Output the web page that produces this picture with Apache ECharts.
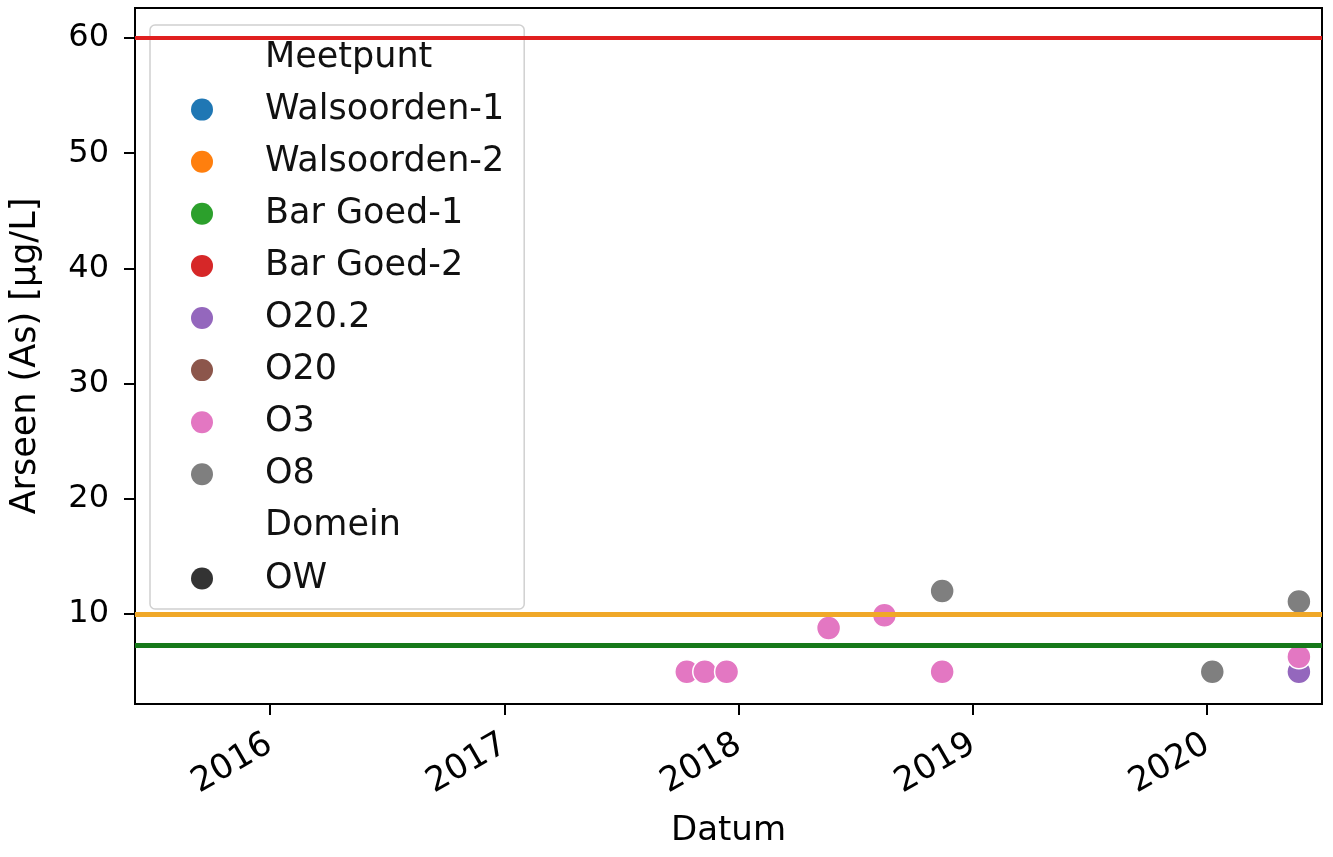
<!DOCTYPE html>
<html>
<head>
<meta charset="utf-8">
<script src="https://cdn.jsdelivr.net/npm/echarts@6/dist/echarts.min.js"></script>
<style>html,body{margin:0;padding:0;background:#fff}#c{width:1333px;height:857px}</style>
</head>
<body>
<div id="c"></div>
<script>
// ---- data ----
const legendNames = ['Meetpunt','Walsoorden-1','Walsoorden-2','Bar Goed-1','Bar Goed-2','O20.2','O20','O3','O8','Domein','OW'];
const legendColors = ['transparent','#1f77b4','#ff7f0e','#2ca02c','#d62728','#9467bd','#8c564b','#e377c2','#7f7f7f','transparent','#333333'];

const o202Dates = ['2020-05-23'];
const o202Values = [5];
const o3Dates = ['2017-10-12','2017-11-09','2017-12-13','2018-05-21','2018-08-16','2018-11-14','2020-05-23'];
const o3Values = [5, 5, 5, 8.8, 9.9, 5, 6.3];
const o8Dates = ['2018-11-14','2020-01-09','2020-05-23'];
const o8Values = [12, 5, 11.1];

const thresholdValues = [60, 10, 7.3];
const thresholdColors = ['#e01f1f','#f0a828','#16791a'];

const yearTicks = ['2016-01-01','2017-01-01','2018-01-01','2019-01-01','2020-01-01'];
const yTicks = [10, 20, 30, 40, 50, 60];
const xRange = ['2015-06-05', '2020-06-28'];

const ts = (d) => Date.parse(d + 'T00:00:00Z');
const zip = (d, v) => d.map((x, i) => [ts(x), v[i]]);

const font = 'DejaVu Sans';
const series = [];
legendNames.forEach((n, i) => {
  series.push({ name: n, type: 'scatter', data: [], itemStyle: { color: legendColors[i] } });
});
const pointStyle = (c) => ({ color: c, borderColor: '#fff', borderWidth: 1.5, opacity: 1 });
series.push({ name: 'O20.2 pts', type: 'scatter', symbolSize: 24, data: zip(o202Dates, o202Values), itemStyle: pointStyle('#9467bd'), z: 3 });
series.push({ name: 'O3 pts', type: 'scatter', symbolSize: 24, data: zip(o3Dates, o3Values), itemStyle: pointStyle('#e377c2'), z: 3 });
series.push({ name: 'O8 pts', type: 'scatter', symbolSize: 24, data: zip(o8Dates, o8Values), itemStyle: pointStyle('#7f7f7f'), z: 3 });
series.push({
  name: 'limits', type: 'line', data: [], z: 4,
  markLine: {
    silent: true, symbol: ['none','none'], label: { show: false },
    data: thresholdValues.map((v, i) => ({ yAxis: v, lineStyle: { color: thresholdColors[i], width: i === 0 ? 4 : 5, type: 'solid' } }))
  }
});

const chart = echarts.init(document.getElementById('c'));
chart.setOption({
  animation: false,
  grid: { left: 133, right: 11, top: 8, bottom: 153, show: true, borderColor: '#000', borderWidth: 2, backgroundColor: 'transparent' },
  xAxis: {
    type: 'value',
    min: ts(xRange[0]), max: ts(xRange[1]),
    name: 'Datum', nameLocation: 'middle', nameGap: 110,
    nameTextStyle: { fontFamily: font, fontSize: 34, color: '#000' },
    axisLine: { lineStyle: { color: '#000', width: 2 } },
    axisTick: { show: true, length: 11, lineStyle: { color: '#000', width: 2 }, customValues: yearTicks.map(ts) },
    axisLabel: {
      rotate: 30, margin: 38, fontFamily: font, fontSize: 34, color: '#000',
      customValues: yearTicks.map(ts),
      formatter: (v) => String(new Date(v).getUTCFullYear())
    },
    splitLine: { show: false }
  },
  yAxis: {
    type: 'value', min: 2.2, max: 62.6,
    name: 'Arseen (As) [µg/L]', nameLocation: 'middle', nameGap: 92,
    nameTextStyle: { fontFamily: font, fontSize: 35, color: '#000' },
    axisLine: { show: true, lineStyle: { color: '#000', width: 2 } },
    axisTick: { show: true, length: 11, lineStyle: { color: '#000', width: 2 }, customValues: yTicks },
    axisLabel: { margin: 26, fontFamily: font, fontSize: 32, color: '#000', customValues: yTicks },
    splitLine: { show: false }
  },
  legend: {
    left: 150, top: 25, orient: 'vertical',
    selectedMode: false,
    backgroundColor: 'rgba(255,255,255,0.85)',
    borderColor: '#d0d0d0', borderWidth: 1.5, borderRadius: 5,
    padding: [15, 20, 13, 41],
    itemWidth: 60, itemHeight: 22, itemGap: 17.1,
    icon: 'circle',
    textStyle: { fontFamily: font, fontSize: 35, color: '#111', lineHeight: 30, padding: [0, 0, 0, 28] },
    data: legendNames.map((n, i) => ({ name: n, itemStyle: { color: legendColors[i], opacity: legendColors[i] === 'transparent' ? 0 : 1 } }))
  },
  series: series
});
</script>
</body>
</html>
